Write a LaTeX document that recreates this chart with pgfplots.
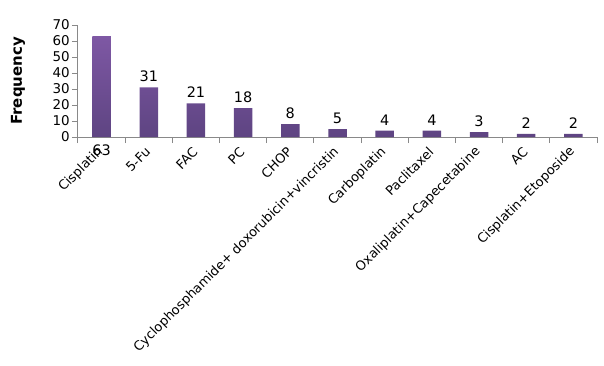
\documentclass[border=0pt]{standalone}
\usepackage{pgfplots}
\pgfplotsset{compat=1.18}
\usepackage{fontspec}
\setmainfont{DejaVu Sans}
\begin{document}
\begin{tikzpicture}
\definecolor{axisgray}{RGB}{137,137,137}
\definecolor{bartop}{RGB}{126,88,164}
\definecolor{barbot}{RGB}{94,68,130}
\begin{axis}[
  name=main,
  scale only axis, width=519bp, height=112bp,
  xmin=-0.5, xmax=10.5, ymin=0, ymax=70,
  axis lines=left,
  axis line style={-, draw=axisgray, line width=1bp},
  ytick={0,10,...,70},
  xtick={0,...,10},
  xticklabels={Cisplatin,5-Fu,FAC,PC,CHOP,Cyclophosphamide+ doxorubicin+vincristin,Carboplatin,Paclitaxel,Oxaliplatin+Capecetabine,AC,Cisplatin+Etoposide},
  minor xtick={-0.5,0.5,...,10.5},
  tick align=outside,
  major tick length=6bp,
  minor tick length=6bp,
  major x tick style={draw=none},
  tick style={draw=axisgray, line width=1bp},
  minor tick style={draw=axisgray, line width=1bp},
  /pgf/number format/assume math mode=true,
  yticklabel style={font=\fontsize{13.5}{15}\selectfont, inner sep=2bp},
  xticklabel style={font=\fontsize{13}{15}\selectfont, rotate=45, anchor=east, inner sep=1bp},
  xticklabel shift=6bp,
  ylabel={\textbf{Frequency}},
  ylabel style={font=\fontsize{15}{17}\selectfont, at={(axis description cs:-0.1156,0.5)}, anchor=center, rotate=0},
  clip=false,
]
\addplot[ybar, bar width=18.5bp, draw=none, top color=bartop, bottom color=barbot,
  point meta=explicit symbolic,
  nodes near coords,
  nodes near coords style={font=\fontsize{14.5}{16}\selectfont, anchor=south, yshift=2bp, text=black}]
  table[meta=lab] {
x y lab
0 63 {}
1 31 31
2 21 21
3 18 18
4 8 8
5 5 5
6 4 4
7 4 4
8 3 3
9 2 2
10 2 2
};
\node[font=\fontsize{14.5}{16}\selectfont] at (axis cs:0,0) [yshift=-13bp] {63};
\end{axis}
\pgfresetboundingbox
\path[use as bounding box] ([shift={(-78bp,-229bp)}]main.south west) rectangle ([shift={(526bp,137bp)}]main.south west);
\end{tikzpicture}
\end{document}
